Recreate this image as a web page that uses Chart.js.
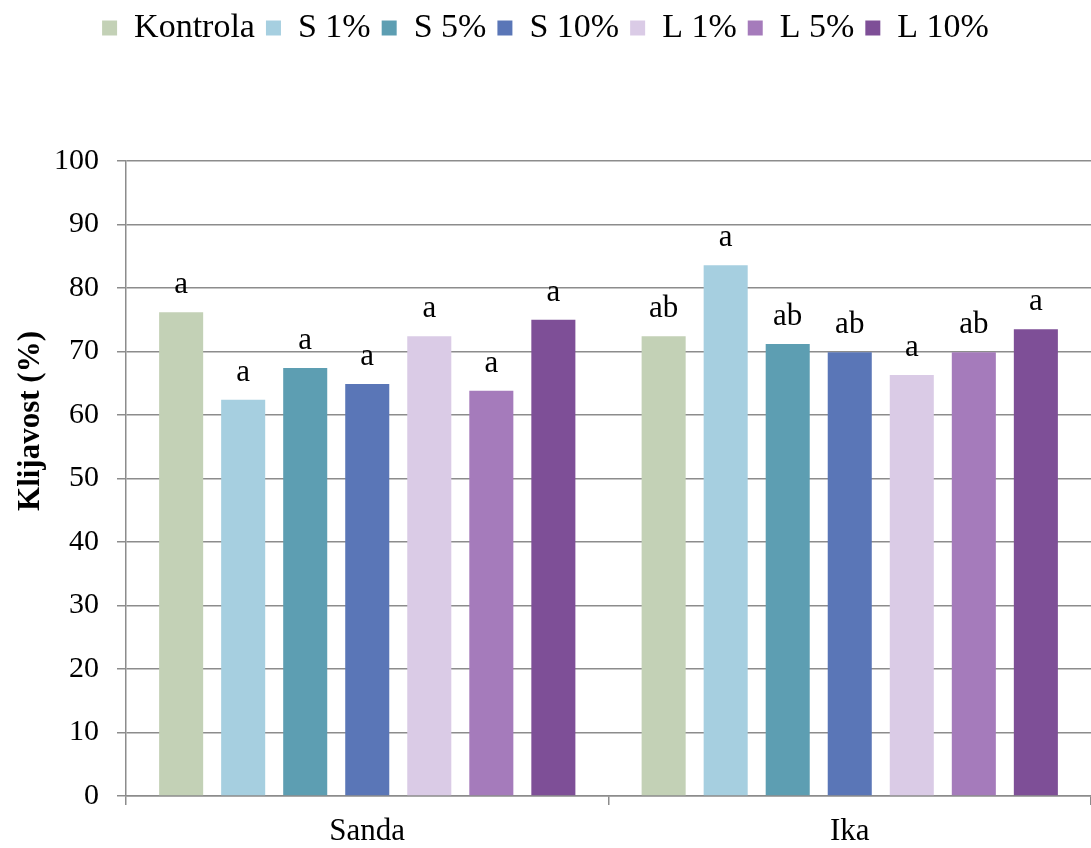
<!DOCTYPE html>
<html>
<head>
<meta charset="utf-8">
<script src="https://cdn.jsdelivr.net/npm/chart.js@4.4.0/dist/chart.umd.min.js"></script>
<style>
	html, body { margin: 0; padding: 0; background: #ffffff; }
	#wrap { width: 1091px; height: 848px; position: relative; }
</style>
</head>
<body>
<div id="wrap"><canvas id="klijavost-chart"></canvas></div>
<script>
	// Chart data.
	const categories = ['Sanda', 'Ika'];
	const seriesNames = ['Kontrola', 'S 1%', 'S 5%', 'S 10%', 'L 1%', 'L 5%', 'L 10%'];
	const kontrola = [76.2, 72.4];
	const s1 = [62.4, 83.6];
	const s5 = [67.4, 71.2];
	const s10 = [64.9, 69.9];
	const l1 = [72.4, 66.3];
	const l5 = [63.8, 69.9];
	const l10 = [75.0, 73.5];
	// Significance letters per series, one per category.
	const letters = [
		['a', 'ab'],
		['a', 'a'],
		['a', 'ab'],
		['a', 'ab'],
		['a', 'a'],
		['a', 'ab'],
		['a', 'a']
	];
	const yTicks = [0, 10, 20, 30, 40, 50, 60, 70, 80, 90, 100];
	const yTitle = 'Klijavost (%)';

	const seriesValues = [kontrola, s1, s5, s10, l1, l5, l10];
	const colors = ['#c3d1b6', '#a6cfe0', '#5d9eb2', '#5a76b7', '#dacbe6', '#a57bbb', '#7e4f97'];
	const fontFamily = '"Liberation Serif", "Times New Roman", serif';
	const gridColor = '#8c8c8c';

	// Push the plot area down below the legend.
	const legendSpace = {
		id: 'legendSpace',
		beforeInit: function(chart) {
			const fit = chart.legend.fit;
			chart.legend.fit = function() {
				fit.bind(chart.legend)();
				this.height = 161;
			};
		}
	};

	// Letters above the bars and the y axis title.
	const extras = {
		id: 'extras',
		afterDatasetsDraw: function(chart) {
			const ctx = chart.ctx;
			ctx.save();
			ctx.font = '31px ' + fontFamily;
			ctx.fillStyle = '#000000';
			ctx.textAlign = 'center';
			ctx.textBaseline = 'alphabetic';
			chart.data.datasets.forEach(function(ds, i) {
				chart.getDatasetMeta(i).data.forEach(function(bar, j) {
					ctx.fillText(letters[i][j], bar.x, bar.y - 19);
				});
			});
			ctx.translate(31, 421);
			ctx.rotate(-Math.PI / 2);
			ctx.textBaseline = 'middle';
			ctx.font = 'bold 31px ' + fontFamily;
			ctx.fillText(yTitle, 0, 0);
			ctx.restore();
		}
	};

	const ctx = document.getElementById('klijavost-chart').getContext('2d');
	new Chart(ctx, {
		type: 'bar',
		data: {
			labels: categories,
			datasets: seriesNames.map(function(name, i) {
				return {
					label: name,
					data: seriesValues[i],
					backgroundColor: colors[i],
					borderWidth: 0,
					categoryPercentage: 0.9,
					barPercentage: 0.71
				};
			})
		},
		options: {
			responsive: true,
			maintainAspectRatio: false,
			animation: false,
			layout: { padding: 0 },
			plugins: {
				legend: {
					position: 'top',
					labels: {
						color: '#000000',
						boxWidth: 15,
						boxHeight: 15,
						padding: 11,
						font: { family: fontFamily, size: 34 }
					}
				},
				tooltip: { enabled: false }
			},
			scales: {
				x: {
					offset: true,
					border: { color: gridColor, width: 1.5 },
					grid: {
						offset: true,
						drawOnChartArea: false,
						drawTicks: true,
						tickLength: 9,
						color: gridColor,
						lineWidth: 1.5
					},
					ticks: {
						color: '#000000',
						padding: 8,
						font: { family: fontFamily, size: 31 }
					},
					afterFit: function(scale) {
						scale.height = 52;
					}
				},
				y: {
					min: 0,
					max: 100,
					border: { color: gridColor, width: 1.5 },
					grid: {
						color: gridColor,
						lineWidth: 1.5,
						tickLength: 9
					},
					afterBuildTicks: function(scale) {
						scale.ticks = yTicks.map(function(v) { return { value: v }; });
					},
					ticks: {
						color: '#000000',
						padding: 18,
						font: { family: fontFamily, size: 30 }
					},
					afterFit: function(scale) {
						scale.width = 126;
					}
				}
			}
		},
		plugins: [legendSpace, extras]
	});
</script>
</body>
</html>
